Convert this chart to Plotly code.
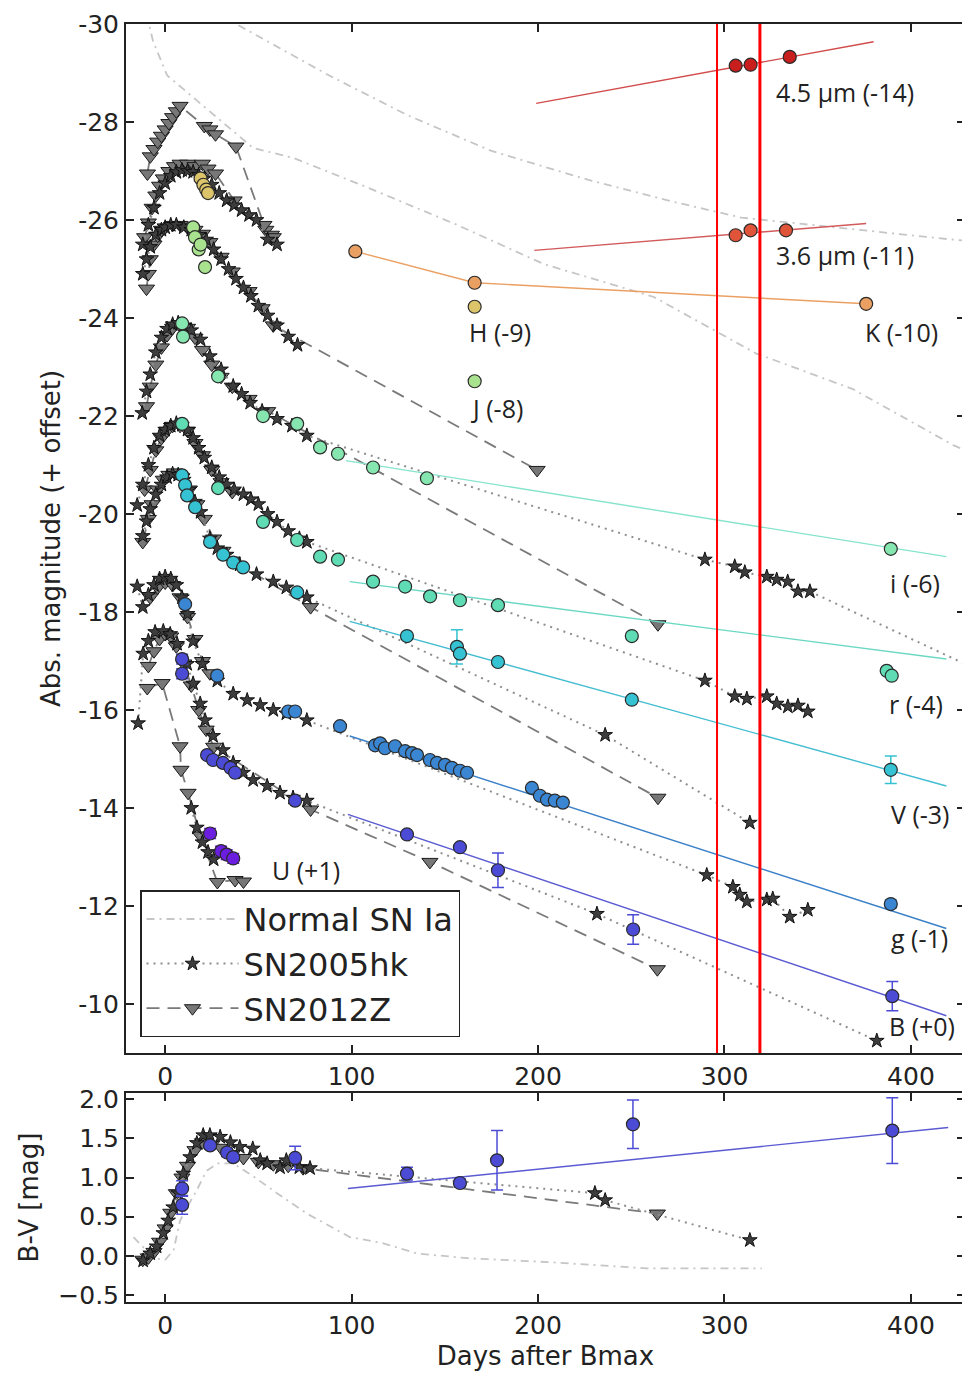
import plotly.graph_objects as go

# ======================= TOP PANEL DATA (plotted magnitude incl. offset) =======================
# Spitzer 4.5 micron (-14)
m45_day = [306, 314, 335]
m45_mag = [-29.15, -29.17, -29.33]
m45_fit_day = [199, 380]
m45_fit_mag = [-28.38, -29.64]
# Spitzer 3.6 micron (-11)
m36_day = [306, 314, 333]
m36_mag = [-25.69, -25.79, -25.79]
m36_fit_day = [198, 376]
m36_fit_mag = [-25.38, -25.93]
# K (-10)
K_day = [102, 166, 376]
K_mag = [-25.36, -24.72, -24.29]
K_Z_day = [-9.5, -8, -6, -4, -2, 0, 2, 4, 6, 8, 21, 24, 27, 38, 54, 57]
K_Z_mag = [-26.95, -27.3, -27.45, -27.6, -27.72, -27.85, -27.98, -28.1, -28.22, -28.33,
           -27.92, -27.85, -27.75, -27.5, -25.8, -25.7]
# H (-9)
H_day = [19, 20.5, 22, 23, 166]
H_mag = [-26.85, -26.72, -26.62, -26.55, -24.23]
H_Z_day = [-11, -9, -7, -5, -3, -1, 2, 5, 8, 12, 16, 20, 23, 27, 37, 53, 58]
H_Z_mag = [-25.65, -25.95, -26.25, -26.5, -26.7, -26.85, -27.0, -27.1, -27.15, -27.15,
           -27.1, -27.15, -27.05, -26.95, -26.4, -25.9, -25.65]
H_hk_day = [-12, -9, -6, -3, 0, 3, 6, 9, 12, 15, 18, 21, 25, 29, 33, 37, 41, 45, 49, 55, 60]
H_hk_mag = [-25.5, -25.9, -26.25, -26.55, -26.75, -26.9, -26.98, -27.02, -27.0, -26.98, -26.92,
            -26.85, -26.72, -26.55, -26.4, -26.3, -26.2, -26.1, -26.0, -25.6, -25.5]
# J (-8)
J_day = [15, 16, 18, 19, 21.4, 166]
J_mag = [-25.85, -25.65, -25.4, -25.5, -25.04, -22.71]
J_Z_day = [-10, -9, -8, -6, -4, -2, 0, 4, 8, 12, 16, 20, 24, 30, 36, 45, 52, 58, 199.5]
J_Z_mag = [-24.6, -24.9, -25.2, -25.5, -25.68, -25.8, -25.85, -25.9, -25.9, -25.85, -25.8,
           -25.72, -25.55, -25.25, -24.95, -24.55, -24.2, -23.85, -20.9]
J_hk_day = [-12, -10, -8, -5, -2, 0, 3, 6, 10, 14, 18, 22, 26, 30, 34, 38, 42, 46, 50, 55, 60, 66, 71]
J_hk_mag = [-24.9, -25.2, -25.45, -25.7, -25.8, -25.85, -25.9, -25.9, -25.85, -25.8, -25.7,
            -25.6, -25.4, -25.2, -25.0, -24.8, -24.62, -24.45, -24.25, -24.05, -23.85, -23.62, -23.45]
# i (-6)
i_day = [9.1, 9.6, 28.4, 52.5, 70.8, 83.1, 92.7, 111.5, 140.4, 389.2]
i_mag = [-23.89, -23.62, -22.81, -22.0, -21.84, -21.36, -21.23, -20.95, -20.73, -19.29]
i_fit_day = [97, 419]
i_fit_mag = [-21.09, -19.13]
i_hk_day = [-12.3, -10, -8, -5, -2, 1, 4, 7, 10, 14, 19, 24, 30, 36.5, 41, 45.6, 52, 60, 68, 76,
            289.5, 305.5, 310.9, 322.7, 328, 333.9, 339.4, 345.8]
i_hk_mag = [-22.06, -22.5, -22.85, -23.3, -23.6, -23.78, -23.87, -23.9, -23.85, -23.75, -23.56,
            -23.22, -22.95, -22.61, -22.45, -22.27, -22.1, -21.94, -21.8, -21.6,
            -19.07, -18.93, -18.81, -18.72, -18.66, -18.62, -18.42, -18.42]
i_hk_tail_day = [345.8, 429]
i_hk_tail_mag = [-18.42, -16.94]
i_Z_day = [-10, -8, -5, -2, 1, 4, 8, 12, 16, 20, 25, 30, 36, 45, 55, 264.3]
i_Z_mag = [-22.2, -22.6, -23.05, -23.4, -23.65, -23.8, -23.85, -23.8, -23.6, -23.35, -23.05,
           -22.8, -22.6, -22.35, -22.1, -17.75]
# r (-4)
r_day = [9.1, 28.4, 52.5, 70.8, 83.1, 92.7, 111.5, 128.7, 142.1, 158.1, 178.5, 250.3, 387, 389.7]
r_mag = [-21.84, -20.53, -19.84, -19.47, -19.13, -19.07, -18.62, -18.52, -18.32, -18.24,
         -18.14, -17.51, -16.8, -16.7]
r_fit_day = [99, 419]
r_fit_mag = [-18.62, -17.04]
r_hk_day = [-15, -12, -9, -6, -3, 0, 3, 6, 9, 12, 15, 18, 21, 25, 29, 33, 37, 42, 46, 50, 55,
            60, 66, 72, 76, 289.5, 305.5, 312, 322.7, 328, 334, 339.4, 344.7]
r_hk_mag = [-20.18, -20.6, -21.0, -21.35, -21.6, -21.72, -21.8, -21.85, -21.82, -21.72, -21.55,
            -21.35, -21.15, -20.95, -20.75, -20.6, -20.5, -20.4, -20.3, -20.2, -20.0, -19.84,
            -19.65, -19.5, -19.43, -16.6, -16.28, -16.23, -16.28, -16.13, -16.07, -16.09, -15.97]
r_Z_day = [-11, -8, -5, -2, 1, 4, 8, 12, 16, 20, 25, 30, 36]
r_Z_mag = [-20.5, -20.9, -21.3, -21.55, -21.7, -21.8, -21.8, -21.7, -21.45, -21.2, -20.9,
           -20.65, -20.45]
# V (-3)
V_day = [9.1, 10.7, 11.8, 16.1, 24.1, 31.1, 36.5, 41.8, 70.8, 129.7, 156.5, 158.1, 178.5,
         250.3, 389.2]
V_mag = [-20.79, -20.59, -20.38, -20.14, -19.43, -19.17, -19.01, -18.91, -18.40, -17.51,
         -17.29, -17.15, -16.98, -16.21, -14.78]
V_err = [0, 0, 0, 0, 0, 0, 0, 0, 0, 0, 0.35, 0, 0, 0, 0.28]
V_fit_day = [99, 419]
V_fit_mag = [-17.81, -14.45]
V_hk_day = [-12, -10, -8, -5, -2, 1, 4, 7, 10, 13, 16, 19, 24, 28, 33, 40, 49, 58, 65, 76,
            236, 313.6]
V_hk_mag = [-19.55, -19.85, -20.1, -20.4, -20.6, -20.75, -20.82, -20.8, -20.7, -20.5, -20.25,
            -20.04, -19.5, -19.3, -19.17, -18.97, -18.77, -18.62, -18.5, -18.3, -15.49, -13.70]
V_Z_day = [-12, -9, -7, -4, -1, 2, 5, 9, 13, 17, 21, 26, 31, 36, 78, 264.3]
V_Z_mag = [-19.43, -19.9, -20.2, -20.5, -20.7, -20.8, -20.85, -20.75, -20.5, -20.2, -19.9,
           -19.5, -19.25, -19.05, -18.1, -14.21]
# g (-1)
g_day = [10.7, 27.9, 66, 69.7, 93.8, 112.6, 115.3, 117.9, 123.3, 128.7, 132.4, 135.1, 142,
         145.8, 150.1, 153.8, 158.1, 161.9, 196.7, 201, 204.8, 209, 213.3, 389.2]
g_mag = [-18.16, -16.7, -15.97, -15.97, -15.67, -15.28, -15.32, -15.22, -15.26, -15.16,
         -15.12, -15.08, -14.98, -14.92, -14.88, -14.82, -14.76, -14.72, -14.41, -14.25,
         -14.17, -14.15, -14.11, -12.04]
g_err = [0] * 23 + [0.08]
g_fit_day = [99, 419]
g_fit_mag = [-15.47, -11.54]
g_hk_day = [-15, -12, -9, -6, -3, 0, 3, 6, 9, 12, 15, 20, 28, 36.5, 44, 51, 58, 65, 76,
            290.5, 304.5, 308.2, 312, 322.7, 325.9, 335, 344.7]
g_hk_mag = [-18.52, -18.1, -18.35, -18.55, -18.68, -18.72, -18.68, -18.55, -18.3, -17.96,
            -17.4, -16.94, -16.6, -16.33, -16.2, -16.1, -16.0, -15.93, -15.79,
            -12.63, -12.39, -12.23, -12.09, -12.13, -12.15, -11.78, -11.92]
g_Z_day = [-8, -4, 0, 4, 8, 12, 16, 20, 24]
g_Z_mag = [-18.3, -18.5, -18.6, -18.55, -18.3, -17.9, -17.45, -17.0, -16.75]
# B (+0)
B_day = [9.1, 9.1, 22.5, 25.7, 31, 35, 37.5, 69.7, 129.7, 158.1, 178.5, 251, 390]
B_mag = [-17.04, -16.74, -15.08, -14.98, -14.92, -14.82, -14.72, -14.15, -13.46, -13.2,
         -12.73, -11.52, -10.16]
B_err = [0.1, 0.1, 0, 0, 0, 0, 0, 0, 0, 0, 0.35, 0.3, 0.3]
B_fit_day = [98, 419]
B_fit_mag = [-13.87, -9.76]
B_hk_day = [-14.5, -11.8, -9, -5.4, -1, 2.7, 6.4, 11.8, 15, 18.8, 21.4, 25.7, 31, 36.5, 41.8,
            47.2, 54.7, 61.6, 68.6, 76, 231.6, 381.7]
B_hk_mag = [-15.73, -17.15, -17.41, -17.59, -17.61, -17.55, -17.35, -16.94, -16.54, -16.13,
            -15.79, -15.47, -15.18, -14.92, -14.72, -14.57, -14.45, -14.31, -14.21, -14.15,
            -11.84, -9.25]
B_Z_day = [-9, -6, -3, 0, 3, 6, 10, 14, 18, 22, 26, 78, 142, 264]
B_Z_mag = [-16.9, -17.2, -17.45, -17.55, -17.5, -17.3, -16.95, -16.5, -16.0, -15.6, -15.25,
           -13.97, -12.9, -10.71]
# U (+1)
U_day = [24.1, 30, 33, 36.5]
U_mag = [-13.48, -13.12, -13.05, -12.97]
U_err = [0.1, 0.1, 0.1, 0.1]
U_hk_day = [14, 17, 20, 23, 26]
U_hk_mag = [-14.0, -13.6, -13.3, -13.1, -12.95]
U_Z_day = [-9.6, -1.6, 8, 8.5, 12.3, 18.8, 28, 37.5, 42]
U_Z_mag = [-16.45, -16.55, -15.26, -14.78, -14.31, -13.44, -12.49, -12.53, -12.5]
# Normal SN Ia templates (upper right)
NA_day = [30, 40, 88, 130, 175, 227, 274, 309, 425, 432]
NA_mag = [-30.18, -29.96, -28.95, -28.14, -27.41, -26.82, -26.36, -26.05, -25.59, -25.57]
NB_day = [-10, -6.4, 1.1, 47.2, 68.6, 108.8, 156, 203.2, 262.1, 316.8, 368.8, 423, 432]
NB_mag = [-30.2, -29.64, -28.95, -27.47, -27.27, -26.66, -25.91, -25.10, -24.43, -23.28,
          -22.55, -21.40, -21.25]

# band labels
lab_text = ["4.5 µm (-14)", "3.6 µm (-11)", "H (-9)", "K (-10)", "J (-8)", "i (-6)",
            "r (-4)", "V (-3)", "g (-1)", "B (+0)", "U (+1)"]
lab_day = [364.5, 364.5, 179.6, 395, 178, 402, 402.6, 404.7, 404.7, 405.8, 75.6]
lab_mag = [-28.62, -25.28, -23.72, -23.72, -22.17, -18.6, -16.13, -13.87, -11.34, -9.55, -12.73]

# ======================= BOTTOM PANEL DATA (B-V colour) =======================
BV_day = [9.1, 9.1, 24.1, 33.2, 36.5, 69.7, 129.7, 158.1, 178, 250.9, 390]
BV_val = [0.86, 0.65, 1.41, 1.32, 1.26, 1.25, 1.05, 0.93, 1.22, 1.68, 1.6]
BV_err = [0.1, 0.12, 0.05, 0.05, 0.05, 0.15, 0.08, 0.05, 0.38, 0.31, 0.42]
BV_fit_day = [98, 420]
BV_fit_val = [0.86, 1.64]
BV_hk_day = [-11.8, -8, -4.6, -1, 1.6, 4.3, 7, 9.7, 13.4, 17, 20.4, 24, 29.5, 35, 40, 47, 51,
             54.7, 61.6, 65, 72, 77.7, 230.5, 236, 313.6]
BV_hk_val = [-0.06, 0.03, 0.12, 0.29, 0.45, 0.62, 0.80, 1.05, 1.26, 1.44, 1.54, 1.54, 1.52,
             1.45, 1.39, 1.37, 1.22, 1.18, 1.13, 1.22, 1.13, 1.12, 0.80, 0.71, 0.20]
BV_Z_day = [-12, -9, -6, -3, 0, 3, 6, 9, 12, 16, 20, 25, 30, 36, 42, 50, 58, 66, 74, 264]
BV_Z_val = [-0.05, -0.02, 0.05, 0.18, 0.35, 0.55, 0.8, 1.0, 1.15, 1.35, 1.45, 1.42, 1.38,
            1.3, 1.25, 1.2, 1.17, 1.15, 1.12, 0.54]
BV_N_day = [-17, -12, -8, -4, 0, 4.5, 8, 11.7, 17, 22, 28, 36.5, 47, 60, 76, 99, 117, 135,
            162, 205, 258, 320]
BV_N_val = [0.24, 0.12, 0.02, -0.04, -0.05, 0.07, 0.45, 0.62, 0.84, 1.08, 1.18, 1.18, 1.02,
            0.80, 0.54, 0.24, 0.16, 0.03, -0.03, -0.08, -0.16, -0.16]

# ======================= STYLES =======================
DOT_LINE = dict(color='#8e8e8e', width=2, dash='2px,5px')
DASH_LINE = dict(color='#7a7a7a', width=1.8, dash='13px,8px')
DASHDOT_LINE = dict(color='#c6c6c6', width=1.8, dash='8px,5px,2px,5px')
STAR = dict(symbol='star', size=11, color='#3d3d3d', line=dict(color='#111111', width=1))
TRI = dict(symbol='triangle-down', size=14, color='#777777', line=dict(color='#1a1a1a', width=1))

fig = go.Figure()


def add_normal(x, y, xa='x', ya='y', legend=False):
    fig.add_trace(go.Scatter(x=x, y=y, xaxis=xa, yaxis=ya, mode='lines', line=DASHDOT_LINE,
                             name='Normal SN Ia', legendgroup='n', legendrank=1,
                             showlegend=legend, hoverinfo='skip'))


def add_hk(x, y, xa='x', ya='y', legend=False):
    fig.add_trace(go.Scatter(x=x, y=y, xaxis=xa, yaxis=ya, mode='lines+markers', line=DOT_LINE,
                             marker=STAR, name='SN2005hk', legendgroup='h', legendrank=2,
                             showlegend=legend, hoverinfo='skip'))


def add_Z(x, y, xa='x', ya='y', legend=False):
    fig.add_trace(go.Scatter(x=x, y=y, xaxis=xa, yaxis=ya, mode='lines+markers', line=DASH_LINE,
                             marker=TRI, name='SN2012Z', legendgroup='z', legendrank=3,
                             showlegend=legend, hoverinfo='skip'))


def add_fit(x, y, color, xa='x', ya='y'):
    fig.add_trace(go.Scatter(x=x, y=y, xaxis=xa, yaxis=ya, mode='lines',
                             line=dict(color=color, width=1.4), showlegend=False,
                             hoverinfo='skip'))


def add_sn(x, y, color, err=None, mode='markers', xa='x', ya='y'):
    kw = {}
    if err is not None:
        kw['error_y'] = dict(type='data', array=err, color=color, thickness=1.5, width=6)
    fig.add_trace(go.Scatter(x=x, y=y, xaxis=xa, yaxis=ya, mode=mode,
                             line=dict(color=color, width=1.4),
                             marker=dict(symbol='circle', size=13, color=color,
                                         line=dict(color='#2a2a2a', width=1.2)),
                             showlegend=False, hoverinfo='skip', **kw))


# ---- top panel templates ----
add_normal(NA_day, NA_mag, legend=True)
add_normal(NB_day, NB_mag)
fig.add_trace(go.Scatter(x=i_hk_tail_day, y=i_hk_tail_mag, mode='lines', line=DOT_LINE,
                         showlegend=False, hoverinfo='skip'))
for d, m in [(K_Z_day, K_Z_mag), (H_Z_day, H_Z_mag), (J_Z_day, J_Z_mag), (i_Z_day, i_Z_mag),
             (r_Z_day, r_Z_mag), (V_Z_day, V_Z_mag), (g_Z_day, g_Z_mag), (U_Z_day, U_Z_mag)]:
    add_Z(d, m)
add_Z(B_Z_day, B_Z_mag, legend=True)
for d, m in [(H_hk_day, H_hk_mag), (J_hk_day, J_hk_mag), (i_hk_day, i_hk_mag),
             (r_hk_day, r_hk_mag), (V_hk_day, V_hk_mag), (g_hk_day, g_hk_mag),
             (U_hk_day, U_hk_mag)]:
    add_hk(d, m)
add_hk(B_hk_day, B_hk_mag, legend=True)

# ---- fits ----
add_fit(m45_fit_day, m45_fit_mag, '#d24a4a')
add_fit(m36_fit_day, m36_fit_mag, '#d25a5a')
add_fit(i_fit_day, i_fit_mag, '#86e4cc')
add_fit(r_fit_day, r_fit_mag, '#6cd8c4')
add_fit(V_fit_day, V_fit_mag, '#44bcd2')
add_fit(g_fit_day, g_fit_mag, '#3a80c8')
add_fit(B_fit_day, B_fit_mag, '#5a5ad2')

# ---- SN data ----
add_sn(m45_day, m45_mag, '#c81e1e')
add_sn(m36_day, m36_mag, '#e0553a')
add_sn(K_day, K_mag, '#eba063', mode='lines+markers')
add_sn(H_day, H_mag, '#dcc46a')
add_sn(J_day, J_mag, '#a9e28f')
add_sn(i_day, i_mag, '#86e6b0')
add_sn(r_day, r_mag, '#5fdcb4')
add_sn(V_day, V_mag, '#35c2d2', err=V_err)
add_sn(g_day, g_mag, '#3a86d2', err=g_err)
add_sn(B_day, B_mag, '#4b4bd6', err=B_err)
add_sn(U_day, U_mag, '#6b1ee0', err=U_err)

# ---- bottom panel ----
add_normal(BV_N_day, BV_N_val, 'x2', 'y2')
add_Z(BV_Z_day, BV_Z_val, 'x2', 'y2')
add_hk(BV_hk_day, BV_hk_val, 'x2', 'y2')
add_fit(BV_fit_day, BV_fit_val, '#5a5ad2', 'x2', 'y2')
add_sn(BV_day, BV_val, '#4b4bd6', err=BV_err, xa='x2', ya='y2')

# ---- labels ----
for t, d, m in zip(lab_text, lab_day, lab_mag):
    fig.add_annotation(x=d, y=m, xref='x', yref='y', text=t, showarrow=False,
                       font=dict(family='Open Sans', size=25, color='#222222'))

TICKFONT = dict(family='DejaVu Sans', size=25, color='#222222')
axis_common = dict(showline=True, linecolor='#222222', linewidth=2, mirror='allticks',
                   ticks='inside', ticklen=8, tickwidth=1.8, tickcolor='#222222',
                   showgrid=False, zeroline=False, tickfont=TICKFONT, automargin=False,
                   ticklabeloverflow='allow')

top_ticks = [-30, -28, -26, -24, -22, -20, -18, -16, -14, -12, -10]
bv_ticks = [2.0, 1.5, 1.0, 0.5, 0.0, -0.5]
TITLEFONT = dict(family='DejaVu Sans', size=26, color='#222222')

# the page body has an 8 px margin, so the figure is 8 px smaller than the window
fig.update_layout(
    template='none',
    width=962, height=1367,
    margin=dict(l=118, r=5, t=16, b=73, autoexpand=False),
    paper_bgcolor='white', plot_bgcolor='white',
    xaxis=dict(domain=[0, 1], anchor='y', range=[-21, 429],
               tickvals=[0, 100, 200, 300, 400], **axis_common),
    yaxis=dict(domain=[0.19484, 1], anchor='x', range=[-9, -30.001],
               tickvals=top_ticks, ticktext=[str(v) for v in top_ticks],
               title=dict(text='Abs. magnitude (+ offset)', standoff=10, font=TITLEFONT),
               **axis_common),
    xaxis2=dict(domain=[0, 1], anchor='y2', range=[-21, 429],
                tickvals=[0, 100, 200, 300, 400],
                title=dict(text='Days after Bmax', standoff=8, font=TITLEFONT),
                **axis_common),
    yaxis2=dict(domain=[0, 0.16354], anchor='x2', range=[-0.59, 2.08],
                tickvals=bv_ticks, ticktext=['2.0', '1.5', '1.0', '0.5', '0.0', '\u22120.5'],
                title=dict(text='B-V [mag]', standoff=12, font=TITLEFONT),
                **axis_common),
    legend=dict(x=0.0167, y=0.2072, xanchor='left', yanchor='bottom',
                bgcolor='white', bordercolor='#222222', borderwidth=1.5,
                font=dict(family='DejaVu Sans', size=32, color='#222222'),
                itemwidth=92, traceorder='grouped', tracegroupgap=0),
    shapes=[
        dict(type='line', xref='x', yref='y domain', x0=296, x1=296, y0=0, y1=1,
             line=dict(color='#ff0000', width=2)),
        dict(type='line', xref='x', yref='y domain', x0=319, x1=319, y0=0, y1=1,
             line=dict(color='#ff0000', width=3)),
    ],
)

fig.write_html("out.html")
